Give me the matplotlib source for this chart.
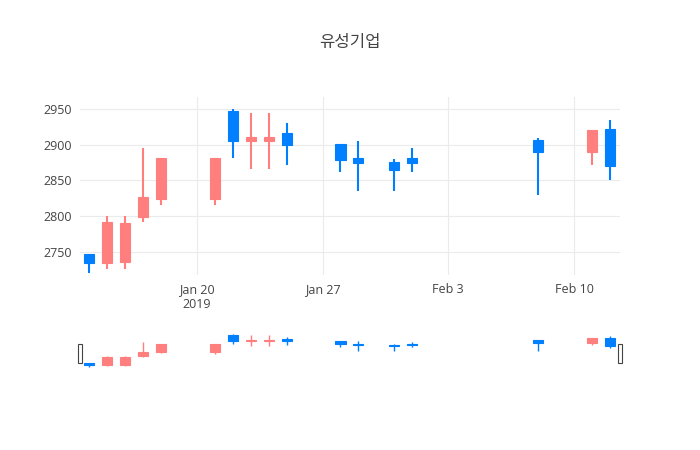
import matplotlib
matplotlib.use("Agg")
import matplotlib.pyplot as plt
import matplotlib.dates as mdates
import numpy as np
import pandas as pd
from matplotlib.patches import Rectangle

dates = pd.to_datetime(["2019-01-14","2019-01-15","2019-01-16","2019-01-17","2019-01-18",
         "2019-01-21","2019-01-22","2019-01-23","2019-01-24","2019-01-25",
         "2019-01-28","2019-01-29","2019-01-31","2019-02-01","2019-02-08",
         "2019-02-11","2019-02-12"])
opens  = [2746,2734,2735,2799,2824,2824,2947,2905,2905,2916,2901,2882,2876,2882,2906,2890,2922]
closes = [2734,2791,2790,2826,2881,2881,2905,2911,2911,2899,2879,2875,2864,2875,2890,2921,2870]
highs  = [2746,2800,2800,2895,2881,2881,2950,2945,2945,2930,2901,2905,2880,2895,2910,2921,2935]
lows   = [2720,2726,2725,2791,2816,2815,2881,2866,2866,2871,2861,2835,2835,2861,2830,2871,2850]

UP = "#FF7F7F"; DOWN = "#007FFF"
plt.rcParams['font.family'] = ['Open Sans', 'Noto Sans CJK KR', 'DejaVu Sans']

fig = plt.figure(figsize=(7, 4.5), dpi=100)
ax = fig.add_axes([80/700, 175/450, 540/700, 178/450])
axs = fig.add_axes([80/700, 80/450, 540/700, 38/450])

x = mdates.date2num(dates)
def draw(a, lw_w, lw_b):
    for xi, o, c, h, l in zip(x, opens, closes, highs, lows):
        col = UP if c >= o else DOWN
        a.vlines(xi, l, h, color=col, lw=lw_w, zorder=3)
        a.bar(xi, abs(c-o) if abs(c-o) > 0 else 0.5, bottom=min(o, c), width=0.56,
              color=col, edgecolor=col, lw=0.8, zorder=3)

draw(ax, 1.5, 1)
draw(axs, 1.0, 1)

xl = (mdates.date2num(pd.Timestamp("2019-01-13")) + 0.5, mdates.date2num(pd.Timestamp("2019-02-12")) + 0.56)
for a in (ax, axs):
    a.set_xlim(*xl)
    for s in a.spines.values():
        s.set_visible(False)

ax.set_ylim(2717, 2967)
ax.set_yticks([2750, 2800, 2850, 2900, 2950])
ax.grid(True, color="#ebebeb", lw=0.8)
ax.set_axisbelow(True)
ticks = pd.to_datetime(["2019-01-20", "2019-01-27", "2019-02-03", "2019-02-10"])
ax.set_xticks(mdates.date2num(ticks))
ax.set_xticklabels(["Jan 20\n2019", "Jan 27", "Feb 3", "Feb 10"])
ax.tick_params(length=0, labelsize=9, colors="#444444", pad=6)

axs.set_ylim(2700, 2965)
axs.set_xticks([]); axs.set_yticks([])
for xe in xl:
    axs.add_patch(Rectangle((xe - 0.12, 2750), 0.24, 130, facecolor="white",
                            edgecolor="#444444", lw=0.8, clip_on=False, zorder=5))

fig.text(350/700, 1 - 43/450, "유성기업", ha="center", va="center", fontsize=12,
         color="#444444", family=['Noto Sans CJK KR', 'DejaVu Sans'])
fig.savefig("out.png", dpi=100, facecolor="white")
